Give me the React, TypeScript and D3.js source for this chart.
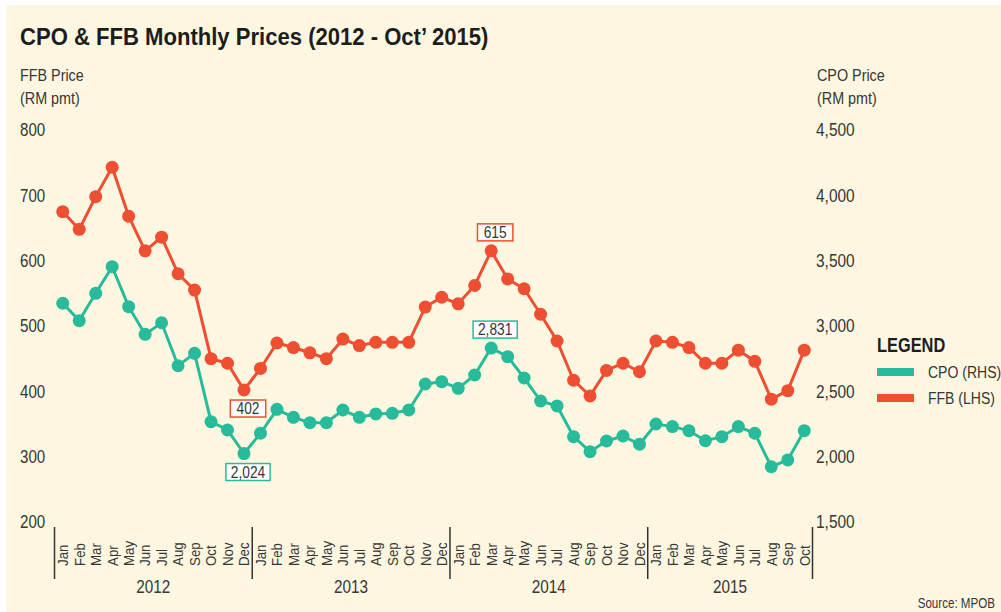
import React from "react";
import * as d3 from "d3";

const monthNames = ["Jan","Feb","Mar","Apr","May","Jun","Jul","Aug","Sep","Oct","Nov","Dec"];
const years = ["2012","2013","2014","2015"];
const monthsPerYear = [12, 12, 12, 10];

const ffb = [
  675, 648, 698, 743, 668, 615, 636, 580, 555, 450, 443, 402,
  435, 474, 467, 459, 450, 480, 470, 475, 475, 475, 529, 544,
  534, 562, 615, 572, 557, 518, 477, 417, 393, 432, 443, 430,
  477, 475, 467, 443, 443, 463, 446, 388, 401, 463,
];
const cpo = [
  3174, 3041, 3250, 3454, 3148, 2936, 3025, 2696, 2791, 2268, 2204, 2024,
  2179, 2362, 2301, 2260, 2260, 2357, 2301, 2327, 2332, 2357, 2556, 2574,
  2523, 2625, 2831, 2765, 2602, 2426, 2388, 2153, 2038, 2120, 2158, 2095,
  2250, 2230, 2199, 2122, 2153, 2230, 2179, 1923, 1975, 2199,
];
const leftTicks = [200, 300, 400, 500, 600, 700, 800];
const rightTicks = [1500, 2000, 2500, 3000, 3500, 4000, 4500];
const annotations = [
  { series: "ffb", index: 11, pos: "below" },
  { series: "cpo", index: 11, pos: "below" },
  { series: "ffb", index: 26, pos: "above" },
  { series: "cpo", index: 26, pos: "above" },
];

const RED = "#EE4E31";
const TEAL = "#27BB9B";
const BG = "#FDF7E1";
const TXT = "#363636";
const FONT = "'Liberation Sans', Arial, sans-serif";

type CT = {
  x: number; y: number; sx?: number; rot?: number; size: number; anchor?: string;
  weight?: string; fill?: string; dy?: string; baseline?: string; children: React.ReactNode;
};
function CText({ x, y, sx = 0.85, rot = 0, size, anchor = "start", weight = "normal", fill = TXT, dy, baseline, children }: CT) {
  return (
    <text
      transform={`translate(${x},${y})${rot ? ` rotate(${rot})` : ""} scale(${sx},1)`}
      textAnchor={anchor}
      fontSize={size}
      fontWeight={weight}
      fill={fill}
      dy={dy}
      dominantBaseline={baseline}
    >
      {children}
    </text>
  );
}

export default function App() {
  const labels: { m: string; y: string }[] = [];
  years.forEach((y, yi) => {
    for (let i = 0; i < monthsPerYear[yi]; i++) labels.push({ m: monthNames[i], y });
  });
  const idx = labels.map((_, i) => i);
  const x = d3.scaleBand<number>().domain(idx).range([54.5, 812.5]).padding(0);
  const cx = (i: number) => (x(i) as number) + x.bandwidth() / 2;
  const yL = d3.scaleLinear().domain([200, 800]).range([522, 130]);
  const yR = d3.scaleLinear().domain([1500, 4500]).range([522, 130]);
  const fmt = d3.format(",");

  const lineL = d3.line<number>().x((_, i) => cx(i)).y((d) => yL(d));
  const lineR = d3.line<number>().x((_, i) => cx(i)).y((d) => yR(d));

  const yearStarts: number[] = [];
  let acc = 0;
  monthsPerYear.forEach((n) => {
    yearStarts.push(acc);
    acc += n;
  });

  return (
    <svg width={1001} height={612} style={{ position: "absolute", left: 0, top: 0 }} fontFamily={FONT}>
      <rect x={0} y={0} width={1001} height={612} fill="#ffffff" />
      <rect x={6} y={5} width={995} height={607} fill={BG} />
      <CText x={20} y={45} size={23} sx={0.96} weight="bold" fill="#1d1d1d">
        CPO &amp; FFB Monthly Prices (2012 - Oct’ 2015)
      </CText>
      <CText x={20} y={81} size={16.5} sx={0.87}>FFB Price</CText>
      <CText x={20} y={104} size={16.5} sx={0.87}>(RM pmt)</CText>
      <CText x={817} y={81} size={16.5} sx={0.87}>CPO Price</CText>
      <CText x={817} y={104} size={16.5} sx={0.87}>(RM pmt)</CText>

      {leftTicks.map((t) => (
        <CText key={"l" + t} x={20} y={yL(t)} dy="0.36em" size={18} sx={0.84}>{t}</CText>
      ))}
      {rightTicks.map((t) => (
        <CText key={"r" + t} x={816} y={yR(t)} dy="0.36em" size={18} sx={0.86}>{fmt(t)}</CText>
      ))}

      {yearStarts.map((s, i) => (
        <line key={"sep" + i} x1={x(s) as number} x2={x(s) as number} y1={527} y2={579} stroke="#333" strokeWidth={1.5} />
      ))}
      <line x1={812.5} x2={812.5} y1={527} y2={579} stroke="#333" strokeWidth={1.5} />
      {labels.map((l, i) => (
        <CText key={"m" + i} x={cx(i)} y={566} rot={-90} baseline="central" size={15.5} sx={0.86}>
          {l.m}
        </CText>
      ))}
      {years.map((yv, yi) => {
        const s = yearStarts[yi];
        const e = s + monthsPerYear[yi] - 1;
        const mid = ((x(s) as number) + (x(e) as number) + x.bandwidth()) / 2;
        return (
          <CText key={"y" + yv} x={mid} y={593} anchor="middle" size={18} sx={0.85}>{yv}</CText>
        );
      })}

      <path d={lineR(cpo) || ""} fill="none" stroke={TEAL} strokeWidth={3} />
      {cpo.map((v, i) => (
        <circle key={"c" + i} cx={cx(i)} cy={yR(v)} r={6.5} fill={TEAL} />
      ))}
      <path d={lineL(ffb) || ""} fill="none" stroke={RED} strokeWidth={3} />
      {ffb.map((v, i) => (
        <circle key={"f" + i} cx={cx(i)} cy={yL(v)} r={6.5} fill={RED} />
      ))}

      {annotations.map((a, k) => {
        const v = a.series === "ffb" ? ffb[a.index] : cpo[a.index];
        const py = a.series === "ffb" ? yL(v) : yR(v);
        const label = fmt(v);
        const digits = label.replace(/,/g, "").length;
        const w = 9 + digits * 8.8;
        const h = 17;
        const bx = cx(a.index) + 4;
        const by = a.pos === "below" ? py + 18.5 : py - 18.5;
        const col = a.series === "ffb" ? RED : TEAL;
        return (
          <g key={"a" + k}>
            <rect x={bx - w / 2} y={by - h / 2} width={w} height={h} fill="#fff" stroke={col} strokeWidth={1.5} />
            <CText x={bx} y={by} dy="0.36em" anchor="middle" size={16} sx={0.86}>{label}</CText>
          </g>
        );
      })}

      <CText x={877} y={352} size={21} sx={0.78} weight="bold" fill="#1d1d1d">LEGEND</CText>
      <rect x={877} y={368} width={37} height={8} fill={TEAL} />
      <CText x={928} y={372} dy="0.36em" size={16.5} sx={0.85}>CPO (RHS)</CText>
      <rect x={877} y={394} width={37} height={8} fill={RED} />
      <CText x={928} y={398} dy="0.36em" size={16.5} sx={0.85}>FFB (LHS)</CText>

      <CText x={995} y={608} anchor="end" size={14.5} sx={0.8}>Source: MPOB</CText>
    </svg>
  );
}
